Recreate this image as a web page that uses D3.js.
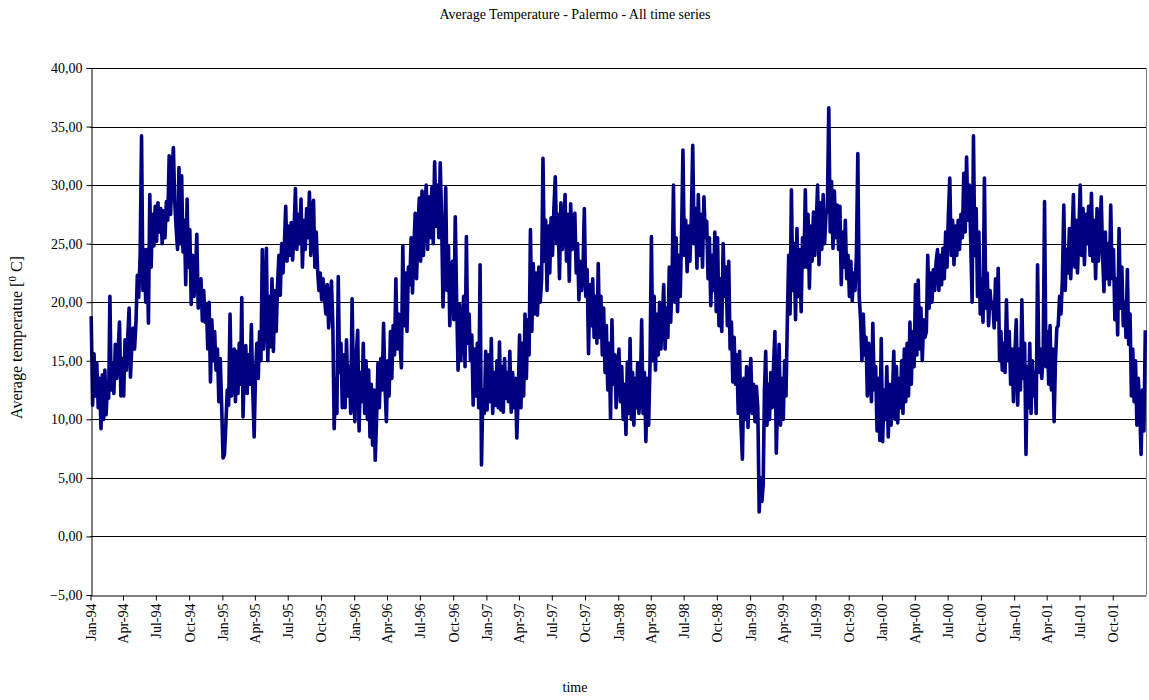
<!DOCTYPE html>
<html>
<head>
<meta charset="utf-8">
<script src="https://cdn.jsdelivr.net/npm/d3@7"></script>
<style>
  html, body { margin: 0; padding: 0; background: #fff; }
  text { font-family: "Liberation Serif", "Times New Roman", serif; fill: #000; }
</style>
</head>
<body>
<svg id="chart" width="1149" height="700"></svg>
<script>
// Daily mean temperature, Palermo, 1994-2001: eight readings per month, spread evenly over each month.
const years = [1994, 1995, 1996, 1997, 1998, 1999, 2000, 2001];

const temps1994 = [
  [18.8, 11.2, 15.6, 12.0, 14.8, 11.0, 13.5, 9.2],
  [13.8, 10.0, 14.2, 10.4, 12.9, 11.8, 20.5, 12.5],
  [14.8, 12.2, 16.4, 13.5, 15.8, 18.3, 12.0, 15.2],
  [12.0, 16.8, 14.2, 17.0, 19.5, 13.6, 16.2, 17.8],
  [16.0, 18.2, 22.3, 20.4, 24.0, 34.2, 21.0, 24.5],
  [20.0, 24.5, 18.2, 29.2, 23.0, 27.5, 24.8, 28.2],
  [25.2, 28.5, 26.0, 28.0, 25.0, 27.8, 25.5, 28.6],
  [27.0, 32.5, 27.5, 31.0, 33.2, 28.5, 26.3, 24.5],
  [31.5, 25.0, 30.8, 24.3, 27.0, 21.5, 28.8, 23.0],
  [26.2, 19.8, 24.0, 20.5, 22.2, 25.8, 19.5, 21.8],
  [22.0, 18.4, 21.0, 18.3, 19.8, 16.0, 20.0, 13.2],
  [18.5, 15.0, 17.5, 14.2, 16.0, 11.5, 15.2, 11.2]
];
const temps1995 = [
  [6.7, 7.0, 9.5, 12.5, 11.2, 19.0, 12.0, 14.5],
  [16.0, 11.5, 15.8, 12.2, 16.5, 13.0, 20.4, 10.2],
  [14.5, 16.3, 12.2, 15.5, 13.0, 18.1, 12.5, 8.5],
  [14.0, 16.5, 13.5, 17.5, 15.0, 24.5, 16.0, 19.5],
  [24.6, 15.0, 20.5, 16.2, 22.0, 15.8, 21.0, 17.5],
  [21.5, 24.0, 20.6, 25.0, 22.5, 24.8, 28.2, 23.5],
  [26.5, 24.0, 26.8, 23.6, 26.0, 29.7, 24.5, 27.5],
  [25.0, 28.8, 23.0, 27.0, 24.5, 28.0, 25.5, 29.4],
  [24.0, 27.5, 28.7, 23.0, 26.0, 22.8, 21.0, 22.5],
  [20.2, 22.0, 20.5, 19.0, 21.5, 17.8, 20.0, 21.8],
  [18.0, 9.2, 13.5, 10.5, 22.2, 14.0, 16.5, 11.0],
  [15.5, 11.0, 16.8, 12.0, 14.5, 10.5, 20.3, 12.5]
];
const temps1996 = [
  [9.8, 15.5, 17.6, 9.0, 14.0, 11.5, 16.5, 10.5],
  [15.0, 10.0, 14.2, 8.5, 13.0, 7.8, 12.5, 6.5],
  [10.0, 14.8, 11.0, 15.2, 12.5, 18.2, 13.0, 9.8],
  [15.0, 12.0, 17.5, 13.5, 18.0, 15.5, 22.0, 16.0],
  [19.0, 16.5, 14.4, 24.8, 18.0, 22.5, 17.5, 23.0],
  [21.5, 25.5, 20.8, 24.5, 27.6, 22.0, 26.0, 28.9],
  [23.5, 29.5, 24.0, 28.0, 30.0, 24.5, 29.0, 25.5],
  [29.8, 25.0, 32.0, 26.5, 30.0, 25.5, 31.9, 27.0],
  [19.6, 24.0, 29.8, 21.0, 24.8, 18.0, 22.5, 23.5],
  [18.5, 27.3, 20.0, 14.2, 19.8, 15.0, 18.0, 20.5],
  [14.5, 25.6, 16.5, 19.0, 15.0, 17.2, 11.2, 16.0],
  [12.0, 16.5, 11.0, 23.2, 6.1, 12.5, 10.5, 15.8]
];
const temps1997 = [
  [10.8, 15.5, 11.5, 16.9, 10.5, 14.0, 11.2, 15.0],
  [11.0, 16.6, 10.8, 14.5, 10.6, 15.2, 11.8, 14.0],
  [11.5, 15.8, 10.6, 14.0, 11.0, 13.5, 8.4, 12.0],
  [17.2, 11.0, 16.5, 12.0, 19.0, 13.5, 18.5, 15.5],
  [26.2, 17.5, 23.3, 19.0, 22.5, 18.9, 23.0, 20.0],
  [22.0, 32.3, 23.5, 27.0, 21.0, 26.5, 22.5, 27.2],
  [24.0, 28.0, 30.7, 25.0, 27.5, 22.0, 28.5, 24.5],
  [26.0, 29.2, 23.5, 27.5, 21.8, 28.4, 24.5, 27.0],
  [27.6, 22.5, 25.0, 20.2, 23.5, 21.0, 22.8, 28.0],
  [20.5, 22.8, 15.6, 21.5, 18.0, 22.0, 17.0, 20.5],
  [16.5, 23.3, 17.0, 20.5, 15.5, 19.5, 14.0, 18.0],
  [12.5, 16.5, 10.1, 18.5, 13.0, 15.5, 11.0, 14.5]
];
const temps1998 = [
  [16.0, 11.5, 14.5, 10.0, 13.0, 8.7, 14.9, 10.5],
  [16.9, 10.0, 14.0, 9.5, 13.5, 11.0, 14.8, 10.5],
  [12.0, 18.5, 10.5, 14.0, 8.1, 13.5, 9.5, 15.0],
  [25.6, 15.0, 20.5, 14.2, 19.0, 15.5, 20.0, 16.0],
  [18.5, 21.5, 16.0, 19.5, 17.0, 23.0, 18.3, 22.0],
  [30.0, 20.0, 25.5, 19.2, 24.0, 20.5, 26.0, 33.0],
  [24.0, 27.0, 22.6, 26.5, 23.5, 27.2, 33.4, 25.0],
  [28.0, 22.9, 29.2, 24.0, 27.5, 23.0, 29.0, 25.5],
  [26.9, 22.0, 25.5, 19.7, 24.0, 21.0, 26.0, 19.2],
  [25.5, 18.0, 22.0, 17.5, 25.0, 20.5, 23.0, 18.0],
  [23.5, 16.0, 18.3, 13.2, 17.0, 13.0, 15.5, 10.5],
  [15.8, 9.5, 6.6, 13.5, 10.0, 14.5, 9.3, 13.0]
];
const temps1999 = [
  [15.2, 10.5, 13.0, 9.8, 12.8, 11.0, 2.1, 5.0],
  [3.0, 4.4, 12.5, 15.8, 9.5, 13.0, 10.0, 14.0],
  [11.0, 14.5, 17.5, 7.1, 12.0, 16.4, 9.5, 13.5],
  [10.0, 15.0, 12.0, 18.5, 24.0, 19.0, 29.6, 21.0],
  [25.0, 18.5, 26.3, 20.5, 24.5, 19.2, 25.5, 23.0],
  [29.6, 23.0, 27.5, 21.2, 26.5, 23.5, 27.7, 24.0],
  [26.5, 30.0, 23.2, 28.5, 24.5, 29.2, 25.0, 27.5],
  [28.0, 36.6, 26.0, 30.3, 24.6, 29.5, 25.5, 28.3],
  [24.5, 28.2, 21.5, 26.0, 23.0, 27.0, 22.0, 24.0],
  [20.5, 23.5, 20.1, 22.5, 21.0, 24.0, 32.7, 20.5],
  [18.5, 15.0, 19.0, 15.5, 17.0, 12.0, 16.5, 14.0],
  [11.5, 18.2, 12.5, 14.5, 9.0, 13.5, 8.2, 16.9]
];
const temps2000 = [
  [8.1, 12.5, 10.0, 14.5, 8.5, 13.0, 9.5, 12.0],
  [15.8, 10.0, 14.5, 9.7, 13.5, 11.0, 15.0, 10.5],
  [16.0, 11.5, 16.5, 12.0, 18.3, 13.0, 17.5, 14.5],
  [21.5, 15.5, 21.9, 16.0, 19.5, 15.0, 18.5, 17.0],
  [17.5, 24.0, 19.5, 22.5, 20.0, 22.8, 21.0, 23.5],
  [24.5, 21.0, 24.0, 21.5, 24.6, 22.0, 26.0, 23.0],
  [27.5, 30.6, 24.0, 27.0, 23.2, 26.5, 24.0, 27.0],
  [24.5, 27.5, 25.5, 31.0, 26.0, 32.4, 27.0, 30.0],
  [25.0, 20.0, 34.2, 24.0, 28.0, 20.5, 26.0, 19.0],
  [22.0, 18.3, 30.6, 19.5, 22.5, 18.0, 21.0, 19.5],
  [20.0, 17.8, 22.0, 18.5, 22.9, 15.0, 17.5, 14.2],
  [16.5, 14.0, 20.2, 15.0, 17.5, 13.0, 16.0, 11.5]
];
const temps2001 = [
  [15.5, 18.5, 11.2, 16.0, 12.5, 20.2, 13.5, 16.5],
  [7.0, 14.5, 11.0, 16.5, 10.5, 15.0, 12.0, 14.0],
  [10.5, 23.2, 14.0, 16.0, 13.5, 15.5, 28.6, 14.5],
  [17.5, 13.0, 18.0, 12.5, 16.0, 9.8, 15.0, 17.8],
  [18.0, 20.5, 19.0, 22.0, 28.3, 21.0, 24.5, 22.5],
  [26.3, 22.0, 25.5, 29.2, 23.0, 27.0, 22.5, 26.0],
  [30.0, 24.0, 28.0, 23.2, 27.5, 25.0, 28.2, 24.0],
  [29.3, 23.5, 27.0, 22.0, 28.0, 23.5, 25.5, 29.0],
  [24.0, 20.9, 26.0, 22.0, 25.0, 21.5, 28.3, 22.0],
  [24.5, 18.5, 22.0, 17.2, 26.3, 19.5, 23.0, 18.0],
  [20.0, 17.0, 22.8, 16.4, 19.0, 12.0, 16.0, 11.5],
  [15.0, 9.5, 13.5, 11.0, 7.0, 12.5, 9.0, 17.6]
];

const yTickValues = [-5, 0, 5, 10, 15, 20, 25, 30, 35, 40];

const titleText = "Average Temperature - Palermo - All time series";
const xTitle = "time";

(function drawChart() {
  // ---- build the dated series ----
  const tempsByYear = [temps1994, temps1995, temps1996, temps1997, temps1998, temps1999, temps2000, temps2001];
  const series = [];
  years.forEach((yr, yi) => {
    tempsByYear[yi].forEach((month, mi) => {
      const start = new Date(yr, mi, 1);
      const end = new Date(yr, mi + 1, 1);
      const span = end - start;
      month.forEach((v, i) => {
        series.push({ date: new Date(+start + span * (i + 0.5) / month.length), value: v });
      });
    });
  });

  // ---- layout ----
  const svg = d3.select("#chart");
  const plotLeft = 90.5, plotRight = 1146, plotTop = 68, plotBottom = 595;

  const x = d3.scaleTime()
    .domain([new Date(1994, 0, 1), new Date(2002, 0, 1)])
    .range([plotLeft, plotRight]);
  const y = d3.scaleLinear().domain([-5, 40]).range([plotBottom, plotTop]);

  const commaLocale = d3.formatLocale({ decimal: ",", thousands: ".", grouping: [3], currency: ["", ""] });
  const fmtY = commaLocale.format(".2f");
  const fmtX = d3.timeFormat("%b-%y");

  // horizontal grid lines
  svg.append("g")
    .selectAll("line")
    .data(yTickValues.filter(v => v !== -5))
    .join("line")
    .attr("x1", plotLeft).attr("x2", plotRight)
    .attr("y1", d => Math.round(y(d)) + 0.5)
    .attr("y2", d => Math.round(y(d)) + 0.5)
    .attr("stroke", "#000")
    .attr("stroke-width", 1.2);

  // right border of plot area
  svg.append("line")
    .attr("x1", plotRight + 0.5).attr("x2", plotRight + 0.5)
    .attr("y1", plotTop).attr("y2", plotBottom)
    .attr("stroke", "#808080").attr("stroke-width", 1);

  // temperature line
  const line = d3.line()
    .x(d => x(d.date))
    .y(d => y(d.value));

  svg.append("path")
    .datum(series)
    .attr("fill", "none")
    .attr("stroke", "#000080")
    .attr("stroke-width", 3.6)
    .attr("stroke-linejoin", "round")
    .attr("d", line);

  // y axis
  const yAxis = d3.axisLeft(y)
    .tickValues(yTickValues)
    .tickFormat(fmtY)
    .tickSize(5)
    .tickPadding(4);
  const gy = svg.append("g")
    .attr("transform", `translate(${Math.round(plotLeft) + 0.5},0)`)
    .call(yAxis);
  gy.selectAll("text").style("font-size", "14px").style("font-family", "Liberation Serif, serif");
  gy.selectAll("line, path").attr("stroke", "#000");

  // x axis
  const xTicks = d3.timeMonth.every(3).range(new Date(1994, 0, 1), new Date(2002, 0, 1));
  const xAxis = d3.axisBottom(x)
    .tickValues(xTicks)
    .tickFormat(fmtX)
    .tickSize(5)
    .tickSizeOuter(0);
  const gx = svg.append("g")
    .attr("transform", `translate(0,${Math.round(plotBottom) + 0.5})`)
    .call(xAxis);
  gx.selectAll("line, path").attr("stroke", "#000");
  gx.selectAll("text")
    .style("font-size", "14px")
    .style("font-family", "Liberation Serif, serif")
    .attr("text-anchor", "end")
    .attr("transform", "rotate(-90)")
    .attr("x", -8)
    .attr("y", 0)
    .attr("dy", "0.35em");

  // titles
  svg.append("text")
    .attr("x", 575).attr("y", 19)
    .attr("text-anchor", "middle")
    .style("font-size", "14px")
    .text(titleText);

  svg.append("text")
    .attr("x", 575).attr("y", 692)
    .attr("text-anchor", "middle")
    .style("font-size", "14px")
    .text(xTitle);

  const yl = svg.append("text")
    .attr("transform", `translate(22,${(plotTop + plotBottom) / 2 + 6}) rotate(-90)`)
    .attr("text-anchor", "middle")
    .style("font-size", "16px");
  yl.append("tspan").text("Average temperatue [");
  yl.append("tspan").attr("dy", "-6").style("font-size", "11px").text("0");
  yl.append("tspan").attr("dy", "6").text(" C]");
})();
</script>
</body>
</html>
